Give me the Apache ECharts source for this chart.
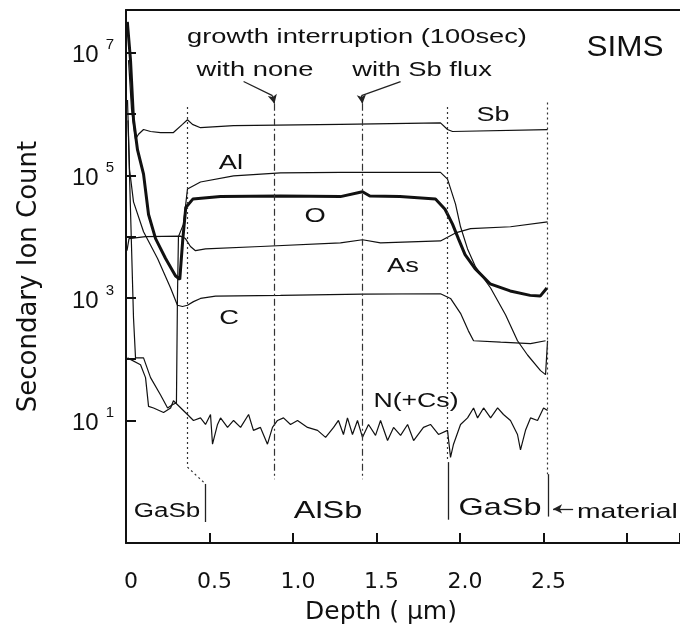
<!DOCTYPE html>
<html>
<head>
<meta charset="utf-8">
<title>SIMS depth profile</title>
<script src="https://cdn.jsdelivr.net/npm/echarts@6/dist/echarts.min.js"></script>
<style>
  html, body { margin: 0; padding: 0; background: #fff; }
  #main { width: 680px; height: 639px; }
</style>
</head>
<body>
<div id="main"></div>
<script>
// [depth (um), secondary ion count]
const sbData = [[0.015, 7.6e6], [0.033, 1.2e6], [0.057, 3.9e5], [0.075, 4.7e5], [0.105, 5.6e5], [0.147, 5.2e5],
  [0.207, 5.0e5], [0.284, 5.0e5], [0.338, 6.8e5], [0.368, 8.1e5], [0.398, 6.8e5], [0.446, 6.0e5], [0.644, 6.5e5],
  [1.284, 6.8e5], [1.883, 7.2e5], [1.925, 5.6e5], [1.955, 5.2e5], [2.524, 5.6e5]];

const alData = [[0.012, 7.9e5], [0.045, 470], [0.057, 105], [0.105, 105], [0.147, 50], [0.207, 26], [0.249, 16],
  [0.278, 18], [0.302, 19.5], [0.308, 1000], [0.314, 1.0e4], [0.344, 1.6e4], [0.368, 6.0e4], [0.446, 7.8e4],
  [0.644, 9.8e4], [0.925, 1.1e5], [1.284, 1.12e5], [1.883, 1.12e5], [1.925, 8.7e4], [1.973, 3.4e4], [2.003, 1.45e4],
  [2.045, 6.3e3], [2.093, 3.2e3], [2.183, 1.45e3], [2.273, 525], [2.344, 200], [2.404, 117], [2.482, 65],
  [2.512, 56], [2.524, 200]];

const oData = [[0.008, 3.2e7], [0.027, 7.6e6], [0.045, 8.1e5], [0.069, 2.6e5], [0.105, 1.05e5], [0.135, 2.3e4],
  [0.177, 9.3e3], [0.237, 4.4e3], [0.296, 2.3e3], [0.322, 2.0e3], [0.340, 9.0e3], [0.358, 3.0e4], [0.40, 4.1e4],
  [0.566, 4.5e4], [0.925, 4.6e4], [1.284, 4.5e4], [1.416, 5.4e4], [1.46, 4.6e4], [1.64, 4.5e4], [1.853, 4.1e4],
  [1.91, 2.8e4], [1.955, 1.6e4], [1.99, 9.3e3], [2.03, 5.1e3], [2.09, 3.0e3], [2.18, 1.7e3], [2.30, 1.3e3],
  [2.42, 1.1e3], [2.48, 1.07e3], [2.52, 1.45e3]];

const asData = [[0.006, 5.9e3], [0.018, 9.3e3], [0.117, 1.0e4], [0.326, 1.02e4], [0.356, 9.3e3], [0.386, 6.9e3],
  [0.416, 5.9e3], [0.476, 6.3e3], [0.805, 6.9e3], [1.284, 7.9e3], [1.416, 8.9e3], [1.524, 7.9e3], [1.883, 8.5e3],
  [1.973, 1.15e4], [2.063, 1.35e4], [2.302, 1.45e4], [2.524, 1.74e4]];

const cData = [[0.009, 1.7e6], [0.021, 1.26e5], [0.045, 3.7e4], [0.105, 1.2e4], [0.189, 4.4e3], [0.267, 1.45e3],
  [0.308, 760], [0.338, 725], [0.368, 760], [0.404, 870], [0.446, 980], [0.536, 1.07e3], [0.925, 1.1e3],
  [1.416, 1.15e3], [1.883, 1.17e3], [1.943, 980], [2.003, 560], [2.05, 290], [2.081, 200], [2.243, 190],
  [2.422, 180], [2.512, 200]];

const nData = [[0.009, 105], [0.087, 81], [0.117, 50], [0.135, 17], [0.165, 16], [0.225, 13.5], [0.267, 16],
  [0.284, 21], [0.368, 12.5], [0.404, 10], [0.446, 11], [0.476, 8.6], [0.506, 12.5], [0.518, 4.1], [0.548, 8.6],
  [0.566, 11], [0.608, 7.7], [0.644, 10], [0.686, 7.7], [0.734, 12.5], [0.763, 6.9], [0.805, 7.7], [0.847, 4.1],
  [0.877, 7.7], [0.907, 10], [0.943, 11], [0.985, 8.6], [1.027, 10], [1.087, 7.7], [1.147, 6.9], [1.195, 5.3],
  [1.243, 7.7], [1.272, 10], [1.302, 5.9], [1.326, 11], [1.356, 5.9], [1.386, 10], [1.416, 5.3], [1.452, 8.6],
  [1.494, 5.7], [1.524, 10], [1.566, 4.7], [1.602, 7.7], [1.644, 5.7], [1.686, 8.6], [1.722, 4.7], [1.781, 7.7],
  [1.823, 8.6], [1.871, 5.9], [1.925, 6.9], [1.943, 2.5], [1.961, 4.1], [2.003, 8.6], [2.045, 11], [2.081, 16],
  [2.105, 11], [2.141, 16], [2.183, 11], [2.225, 16], [2.26, 12.5], [2.302, 10], [2.344, 5.9], [2.362, 3.3],
  [2.392, 6.9], [2.422, 11], [2.464, 10], [2.5, 16], [2.524, 14.5]];

const xLabelValues = [0, 0.5, 1.0, 1.5, 2.0, 2.5];
const yTickValues = [1e1, 1e2, 1e3, 1e4, 1e5, 1e6, 1e7];
const yLabelValues = [1e1, 1e3, 1e5, 1e7];

const FONT = '"Liberation Sans", Arial, sans-serif';
const INK = '#111';

const dotted = { type: [2, 3], width: 1.2, color: '#333' };
const dashDot = { type: [7, 3, 2, 3], width: 1.2, color: '#333' };
const solid = { type: 'solid', width: 1.3, color: '#222' };
const tickStyle = { type: 'solid', width: 2, color: INK };

function seg(a, b, style, arrowEnd) {
  const end = { coord: b };
  if (arrowEnd) {
    end.symbol = 'arrow';
    end.symbolSize = [7, 9];
  }
  return [{ coord: a, lineStyle: style }, end];
}

function curve(name, data, width) {
  return {
    name: name,
    type: 'line',
    data: data,
    symbol: 'none',
    showSymbol: false,
    silent: true,
    lineStyle: { color: INK, width: width },
    z: 3
  };
}

function txt(text, x, y, size, sx, align) {
  return {
    type: 'text',
    x: x,
    y: y,
    scaleX: sx,
    z: 20,
    style: {
      text: text,
      font: size + 'px ' + FONT,
      fill: INK,
      align: align || 'center',
      textAlign: align || 'center',
      verticalAlign: 'middle',
      textVerticalAlign: 'middle'
    }
  };
}

// layer boundaries, interruption markers and the inward decade ticks of the log axis
const guideLines = [
  seg([0.368, 1.3e6], [0.368, 1.73], dotted),
  seg([0.368, 1.73], [0.476, 0.92], dotted),
  seg([0.476, 0.92], [0.476, 0.22], solid),
  seg([1.925, 1.3e6], [1.925, 2.09], dotted),
  seg([1.931, 2.09], [1.931, 0.24], solid),
  seg([2.524, 1.55e6], [2.524, 1.33], dotted),
  seg([2.53, 1.33], [2.53, 0.27], solid),
  seg([0.889, 1.48e6], [0.889, 1.1], dashDot),
  seg([1.416, 1.48e6], [1.416, 1.1], dashDot),
  seg([0.704, 3.4e6], [0.877, 2.0e6], solid),
  seg([0.877, 2.0e6], [0.889, 1.48e6], solid, true),
  seg([1.644, 3.4e6], [1.41, 2.0e6], solid),
  seg([1.41, 2.0e6], [1.416, 1.48e6], solid, true),
  seg([2.677, 0.36], [2.557, 0.36], solid, true)
];
yTickValues.forEach(function (v) {
  guideLines.push(seg([0, v], [0.06, v], tickStyle));
});

const nSeries = curve('N(+Cs)', nData, 1.2);
nSeries.markLine = {
  silent: true,
  symbol: 'none',
  animation: false,
  label: { show: false },
  data: guideLines
};

const chart = echarts.init(document.getElementById('main'));
chart.setOption({
  animation: false,
  backgroundColor: '#fff',
  grid: { left: 126, right: 0, top: 10, bottom: 96 },
  xAxis: [{
    type: 'value',
    min: 0,
    max: 3.317,
    interval: 0.5,
    name: 'Depth ( \u03bcm)',
    nameLocation: 'middle',
    nameGap: 57,
    nameTextStyle: { fontFamily: 'DejaVu Sans', fontSize: 25, color: INK, padding: [0, 44, 0, 0] },
    axisLine: { onZero: false, lineStyle: { color: INK, width: 2 } },
    axisTick: { show: true, inside: true, length: 10, lineStyle: { color: INK, width: 2 } },
    axisLabel: {
      customValues: xLabelValues,
      formatter: function (v) { return v === 0 ? '0' : v.toFixed(1); },
      fontFamily: 'DejaVu Sans',
      fontSize: 22,
      color: INK,
      margin: 28,
      padding: [0, 0, 0, 10]
    },
    splitLine: { show: false }
  }, {
    type: 'value',
    position: 'top',
    min: 0,
    max: 3.317,
    axisLine: { show: true, onZero: false, lineStyle: { color: INK, width: 2 } },
    axisTick: { show: false },
    axisLabel: { show: false },
    splitLine: { show: false }
  }],
  yAxis: {
    type: 'log',
    min: 0.1,
    max: 5e7,
    name: 'Secondary Ion Count',
    nameLocation: 'middle',
    nameGap: 84,
    nameTextStyle: { fontFamily: 'DejaVu Sans', fontSize: 26, color: INK },
    axisLine: { lineStyle: { color: INK, width: 2 } },
    axisTick: { show: false },
    axisLabel: {
      customValues: yLabelValues,
      margin: 12,
      formatter: function (v) { return '{b|10}{e|' + Math.round(Math.log10(v)) + '}'; },
      rich: {
        b: { fontFamily: FONT, fontSize: 24, color: INK, lineHeight: 30, verticalAlign: 'bottom' },
        e: { fontFamily: FONT, fontSize: 15, color: INK, verticalAlign: 'top', padding: [0, 0, 0, 7] }
      }
    },
    minorTick: { show: false },
    splitLine: { show: false }
  },
  series: [
    curve('Sb', sbData, 1.2),
    curve('Al', alData, 1.2),
    curve('O', oData, 3),
    curve('As', asData, 1.2),
    curve('C', cData, 1.2),
    nSeries
  ],
  graphic: [
    txt('growth interruption (100sec)', 357, 37, 21, 1.3),
    txt('with none', 255, 70, 21, 1.3),
    txt('with Sb flux', 422, 70, 21, 1.3),
    txt('SIMS', 625, 48, 30, 1.05),
    txt('Sb', 493, 115, 20, 1.35),
    txt('Al', 231, 163, 21, 1.3),
    txt('O', 315, 216, 21, 1.3),
    txt('As', 403, 266, 21, 1.3),
    txt('C', 229, 318, 21, 1.3),
    txt('N(+Cs)', 416, 401, 20, 1.33),
    txt('GaSb', 167, 511, 20, 1.3),
    txt('AlSb', 328, 511, 24, 1.35),
    txt('GaSb', 500, 508, 24, 1.35),
    txt('material', 577, 512, 21, 1.35, 'left')
  ]
});
</script>
</body>
</html>
